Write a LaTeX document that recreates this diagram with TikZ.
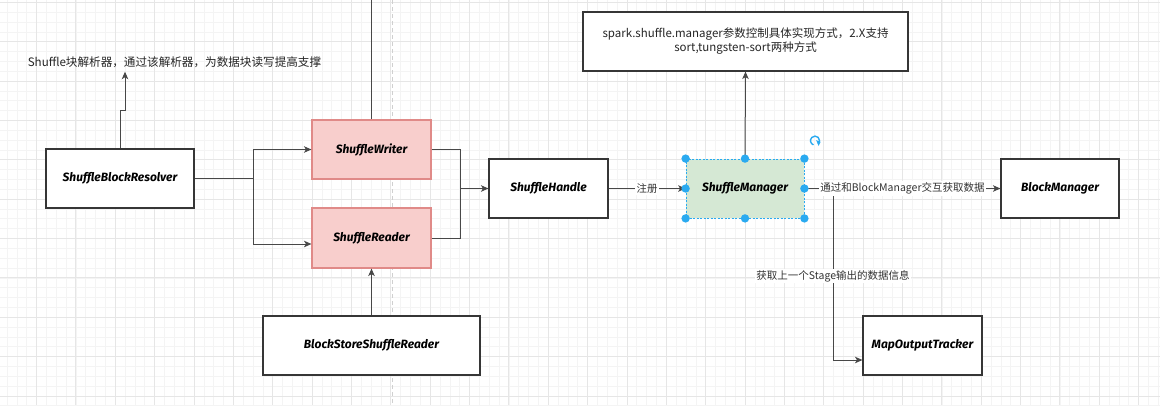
\documentclass[tikz,border=0pt]{standalone}
\usepackage{fontspec}
\setmainfont{Noto Sans CJK SC}
\newfontfamily\boxfont{Fira Sans}
\usetikzlibrary{arrows.meta,calc}
\definecolor{edgec}{HTML}{484848}
\definecolor{boxline}{HTML}{363636}
\definecolor{redfill}{HTML}{F8CECC}
\definecolor{redline}{HTML}{E08A88}
\definecolor{greenfill}{HTML}{D5E8D4}
\definecolor{selblue}{HTML}{2AAAF0}
\definecolor{gridminor}{HTML}{F4F4F4}
\definecolor{gridmajor}{HTML}{E6E6E6}
\definecolor{pagebrk}{HTML}{D0D0D0}
\tikzset{
  box/.style={draw=boxline, line width=1.1pt, fill=white, inner sep=0pt,
    font=\boxfont\bfseries\itshape\fontsize{12}{14}\selectfont},
  redbox/.style={box, draw=redline, fill=redfill},
  greenbox/.style={box, draw=selblue, fill=greenfill, dashed, dash pattern=on 2pt off 1.5pt, line width=0.8pt},
  plain/.style={font=\fontsize{11.6}{14}\selectfont, inner sep=0pt, align=center, text=black!85},
  elabel/.style={fill=white, inner sep=1.5pt, font=\fontsize{10.5}{12}\selectfont, text=black!80},
  arr/.style={draw=edgec, line width=1pt, -{Stealth[length=7.5pt,width=6.5pt,inset=2pt]}},
  ln/.style={draw=edgec, line width=1pt},
  handle/.style={fill=selblue}
}
\begin{document}
\begin{tikzpicture}[x=1pt,y=-1pt]
\useasboundingbox (0,0) rectangle (1166,418);
\fill[white] (0,0) rectangle (1166,418);
% grid
\begin{scope}
\clip (0,0) rectangle (1160,405);
\foreach \i in {0,...,118} \draw[gridminor, line width=0.6pt] ({7.0+\i*9.84},0) -- ({7.0+\i*9.84},405);
\foreach \i in {0,...,41} \draw[gridminor, line width=0.6pt] (0,{2.3+\i*9.84}) -- (1160,{2.3+\i*9.84});
\foreach \i in {0,...,29} \draw[gridmajor, line width=0.8pt] ({36.5+\i*39.36},0) -- ({36.5+\i*39.36},405);
\foreach \i in {0,...,10} \draw[gridmajor, line width=0.8pt] (0,{2.3+\i*39.36}) -- (1160,{2.3+\i*39.36});
\draw[pagebrk, line width=0.8pt, dash pattern=on 4pt off 3pt] (392,0) -- (392,405);
\end{scope}

% nodes
\node[box, minimum width=148, minimum height=59] (SBR) at (120,178.5) {ShuffleBlockResolver};
\node[redbox, minimum width=119, minimum height=59] (SW) at (371.5,149.5) {ShuffleWriter};
\node[redbox, minimum width=119, minimum height=60] (SR) at (371.5,238) {ShuffleReader};
\node[box, minimum width=119, minimum height=59] (SH) at (548.5,188.5) {ShuffleHandle};
\node[greenbox, minimum width=118, minimum height=59] (SM) at (745,188.5) {ShuffleManager};
\node[box, minimum width=325, minimum height=59, font=\fontsize{11.5}{14}\selectfont, align=center, text=black!85] (SP) at (745.5,41.5) {spark.shuffle.manager参数控制具体实现方式，2.X支持\\sort,tungsten-sort两种方式};
\node[box, minimum width=118, minimum height=59] (BM) at (1060,188.5) {BlockManager};
\node[box, minimum width=119, minimum height=59] (MOT) at (922.5,345.5) {MapOutputTracker};
\node[box, minimum width=217, minimum height=59] (BSR) at (371.5,345.5) {BlockStoreShuffleReader};
\node[plain, inner ysep=4pt] (T1) at (174.5,62) {Shuffle块解析器，通过该解析器，为数据块读写提高支撑};

% coordinates
\coordinate (j1) at (125,110);
\coordinate (j2) at (253,178.5);
\coordinate (j3) at (460,150);
\coordinate (topc) at (371.5,-2);
\coordinate (b1) at (833,189);

% edges
\draw[arr] (SBR.north) |- (j1) -- (j1 |- T1.south);
\draw[ln] (SBR.east) -- (j2);
\draw[arr] (j2) |- (SW.west);
\draw[arr] (j2) |- ($(SR.west)+(0,6)$);
\draw[ln] (SW.east) -| (j3);
\draw[arr] (j3) |- (SH.west);
\draw[ln] (SR.east) -| (j3 |- SH.west);
\draw[ln] (SW.north) -- (topc);
\draw[arr] (BSR.north) -- (SR.south);
\draw[arr] (SH.east) -- node[elabel] {注册} (SM.west);
\draw[arr] (SM.north) -- (SP.south);
\draw[arr] (b1) |- node[pos=0.255, elabel] {获取上一个Stage输出的数据信息} ($(MOT.west)+(0,14.5)$);
\draw[arr] (SM.east) -- node[elabel] {通过和BlockManager交互获取数据} (BM.west);

% selection handles
\foreach \a in {north west, north, north east, west, east, south west, south, south east}
  \fill[handle] (SM.\a) circle (4.2);
\coordinate (rot) at (815,147);
\draw[selblue, line width=1.4pt] ($(rot)+(3.2,-3.2)$) arc[start angle=45, end angle=-250, radius=4.5];
\fill[selblue] ($(rot)+(1.2,-6.8)$) -- ($(rot)+(5.6,-5.2)$) -- ($(rot)+(3.6,-1.0)$) -- cycle;
\end{tikzpicture}
\end{document}
